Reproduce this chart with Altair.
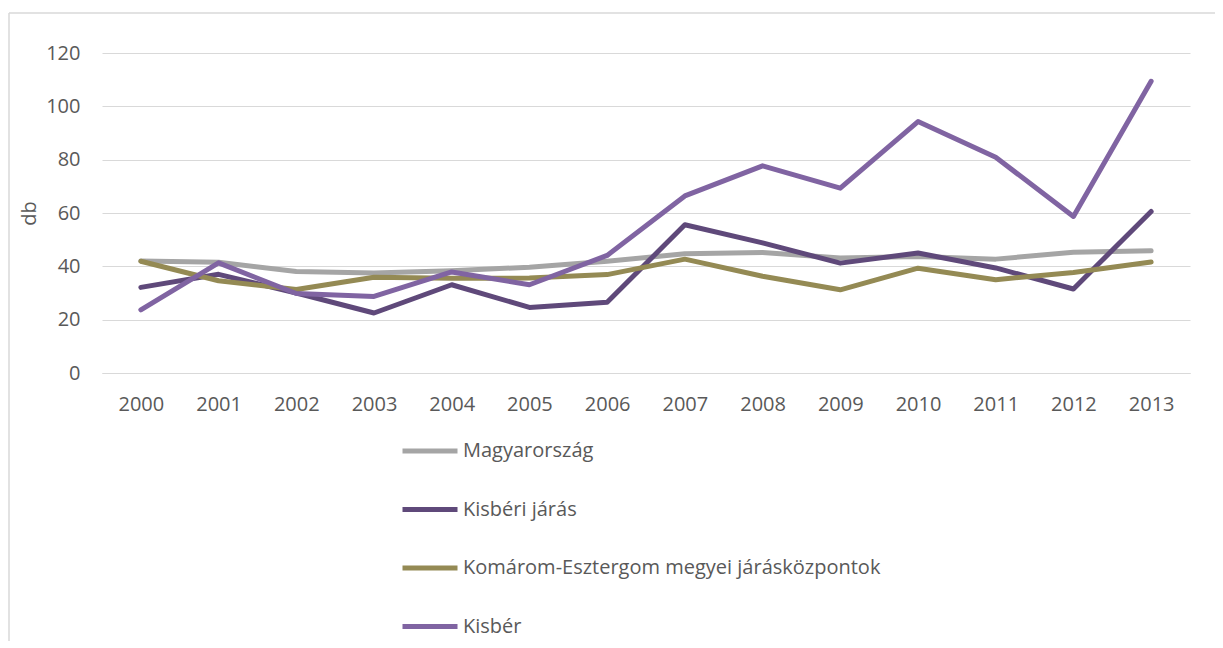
import altair as alt
import pandas as pd

years = [str(y) for y in range(2000, 2014)]
series_names = ["Magyarország", "Kisbéri járás", "Komárom-Esztergom megyei járásközpontok", "Kisbér"]
magyarorszag = [42.0, 41.5, 38.1, 37.5, 38.3, 39.7, 41.9, 44.7, 45.2, 43.1, 43.7, 42.7, 45.3, 45.8]
kisberi_jaras = [32.1, 37.0, 30.0, 22.5, 33.1, 24.6, 26.5, 55.6, 48.8, 41.2, 45.0, 39.4, 31.5, 60.6]
komarom = [41.9, 34.6, 31.3, 35.9, 35.5, 35.6, 36.9, 42.7, 36.3, 31.2, 39.3, 35.0, 37.7, 41.6]
kisber = [23.7, 41.3, 29.8, 28.7, 37.9, 33.1, 44.1, 66.4, 77.7, 69.3, 94.3, 80.9, 58.7, 109.4]
colors = ["#A5A5A5", "#5F497A", "#948A54", "#8064A2"]

rows = []
for name, vals in zip(series_names, [magyarorszag, kisberi_jaras, komarom, kisber]):
    for y, v in zip(years, vals):
        rows.append({"Év": y, "Sorozat": name, "db": v})
df = pd.DataFrame(rows)

FONT = "Open Sans"
GREY_TXT = "#595959"
W, H = 1088, 320

lines = alt.Chart(df).mark_line(strokeWidth=5, strokeCap="round", strokeJoin="round").encode(
    x=alt.X("Év:O", sort=years, title=None,
            scale=alt.Scale(type="point", padding=0.5),
            axis=alt.Axis(labelAngle=0, ticks=False, domain=True, domainColor="#D9D9D9",
                          domainWidth=1, labelPadding=21, labelFontSize=20, labelFont=FONT,
                          labelColor=GREY_TXT, grid=False)),
    y=alt.Y("db:Q", title="db", scale=alt.Scale(domain=[0, 120], nice=False),
            axis=alt.Axis(values=[0, 20, 40, 60, 80, 100, 120], ticks=False, domain=False,
                          grid=True, gridColor="#D9D9D9", gridWidth=1, labelPadding=22,
                          labelFontSize=20, labelFont=FONT, labelColor=GREY_TXT,
                          titleFontSize=20, titleFont=FONT, titleColor=GREY_TXT,
                          titleFontWeight="normal", titlePadding=6)),
    color=alt.Color("Sorozat:N", sort=series_names,
                    scale=alt.Scale(domain=series_names, range=colors),
                    legend=alt.Legend(title=None, orient="none", legendX=298, legendY=368,
                                      direction="vertical", symbolType="stroke",
                                      symbolSize=3025, symbolStrokeWidth=5,
                                      labelFontSize=20, labelFont=FONT, labelColor=GREY_TXT,
                                      labelLimit=800, rowPadding=18.5, labelOffset=3)),
    detail="Sorozat:N",
)

frame_top = alt.Chart(pd.DataFrame({"k": [0]})).mark_rule(color="#D9D9D9", strokeWidth=1.5, clip=False).encode(
    x=alt.value(-93), x2=alt.value(1120), y=alt.value(-40))
frame_left = alt.Chart(pd.DataFrame({"k": [0]})).mark_rule(color="#D9D9D9", strokeWidth=1.5, clip=False).encode(
    x=alt.value(-93), y=alt.value(-40), y2=alt.value(600))

chart = alt.layer(frame_top, frame_left, lines).properties(
    width=W, height=H,
    autosize=alt.AutoSizeParams(type="none"),
    padding={"left": 94, "top": 45, "right": 25, "bottom": 268},
).configure_view(stroke=None)

chart.save("out.html", embed_options={"renderer": "svg", "actions": False})
